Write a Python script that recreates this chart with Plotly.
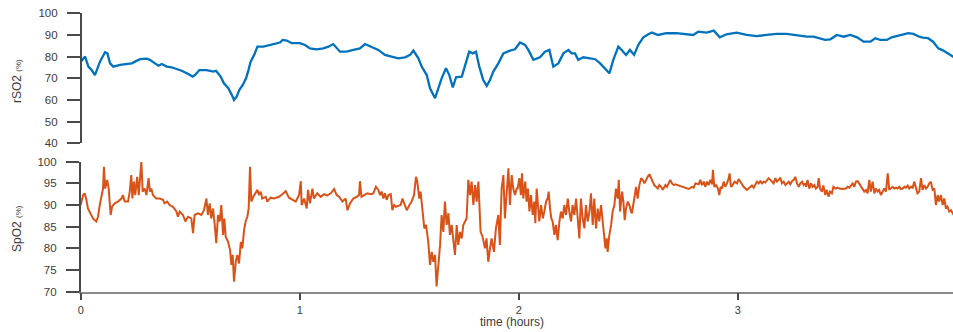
import plotly.graph_objects as go

# Regional cerebral oxygen saturation (rSO2, %) vs time (hours)
rso2_time = [0.000, 0.020, 0.035, 0.050, 0.065, 0.088, 0.111, 0.122, 0.134, 0.149,
             0.180, 0.210, 0.233, 0.248, 0.271, 0.301, 0.316, 0.339, 0.355, 0.370,
             0.393, 0.415, 0.430, 0.461, 0.491, 0.511, 0.522, 0.542, 0.575, 0.606,
             0.618, 0.629, 0.639, 0.654, 0.674, 0.694, 0.700, 0.712, 0.724, 0.740,
             0.755, 0.766, 0.776, 0.792, 0.807, 0.834, 0.865, 0.887, 0.910, 0.922,
             0.941, 0.963, 1.001, 1.024, 1.047, 1.078, 1.108, 1.131,
             1.153, 1.184, 1.214, 1.245, 1.275, 1.298, 1.329, 1.359, 1.389, 1.420,
             1.450, 1.481, 1.504, 1.519, 1.542, 1.557, 1.580, 1.595, 1.618, 1.633,
             1.648, 1.668, 1.683, 1.699, 1.714, 1.740, 1.754, 1.774, 1.790, 1.805,
             1.820, 1.838, 1.854, 1.869, 1.884, 1.907, 1.930, 1.960, 1.983, 2.006,
             2.029, 2.044, 2.067, 2.097, 2.120, 2.140, 2.158, 2.181, 2.204, 2.227,
             2.242, 2.257, 2.272, 2.295, 2.326, 2.349, 2.372, 2.394, 2.414, 2.432,
             2.455, 2.470, 2.490, 2.508, 2.527, 2.546, 2.569, 2.592,
             2.608, 2.637, 2.674, 2.720, 2.766, 2.797, 2.820, 2.858, 2.891, 2.918,
             2.949, 2.995, 3.041, 3.087, 3.132, 3.178, 3.224, 3.254, 3.285, 3.315,
             3.346, 3.399, 3.423, 3.453, 3.484, 3.514, 3.545, 3.575, 3.606, 3.628,
             3.650, 3.681, 3.703, 3.741, 3.779, 3.802, 3.829, 3.846, 3.869, 3.892,
             3.916, 3.939, 3.962, 3.990]
rso2 = [77.7, 80.0, 75.4, 73.8, 71.5, 77.7, 82.0, 81.5, 76.9, 75.4,
        76.2, 76.5, 76.9, 77.7, 78.8, 79.1, 78.5, 76.9, 75.8, 76.6,
        75.4, 75.1, 74.6, 73.5, 72.0, 70.8, 71.5, 73.8, 73.8, 73.1,
        73.5, 72.0, 70.8, 67.7, 65.4, 61.5, 60.0, 61.5, 64.6, 66.9,
        70.0, 73.8, 77.7, 80.8, 84.6, 84.6, 85.4, 86.2, 86.5, 87.7,
        87.4, 86.2, 86.2, 85.4, 83.8, 83.4, 83.8, 84.6,
        85.8, 82.3, 82.3, 83.1, 83.8, 85.8, 84.6, 83.1, 80.8, 80.0,
        79.2, 79.7, 80.8, 82.8, 79.2, 75.4, 71.5, 65.4, 60.8, 65.4,
        70.0, 74.6, 71.5, 65.8, 70.5, 70.8, 75.4, 82.3, 81.5, 82.3,
        75.4, 69.2, 66.5, 69.2, 73.1, 76.9, 81.5, 82.8, 83.4, 86.5,
        85.4, 83.1, 78.5, 79.7, 82.3, 83.1, 75.4, 76.9, 81.5, 83.1,
        81.5, 81.5, 78.5, 79.7, 79.2, 78.8, 76.9, 74.6, 72.3, 78.5,
        84.6, 83.1, 80.8, 83.1, 80.8, 85.4, 88.9, 90.3,
        91.1, 90.0, 90.8, 90.8, 90.3, 90.0, 91.5, 91.1, 92.0, 88.9,
        90.3, 91.1, 90.0, 89.5, 90.0, 90.5, 90.5, 90.0, 89.5, 89.2,
        89.2, 87.7, 88.0, 90.0, 89.2, 90.0, 88.9, 86.9, 86.9, 88.5,
        87.7, 87.7, 88.9, 90.0, 90.8, 90.5, 89.2, 88.8, 88.5, 86.9,
        83.8, 82.8, 81.5, 79.6]

# Peripheral oxygen saturation (SpO2, %) vs time (hours)
spo2_time = [0.000, 0.011, 0.018, 0.026, 0.033, 0.046, 0.056, 0.071, 0.079, 0.087,
             0.094, 0.102, 0.106, 0.112, 0.121, 0.128, 0.132, 0.137, 0.143, 0.155,
             0.170, 0.186, 0.193, 0.201, 0.216, 0.224, 0.231, 0.236, 0.243, 0.249,
             0.258, 0.265, 0.277, 0.283, 0.292, 0.300, 0.310, 0.316, 0.322, 0.330,
             0.345, 0.361, 0.376, 0.383, 0.395, 0.406, 0.421, 0.437, 0.444, 0.452,
             0.467, 0.478, 0.490, 0.505, 0.513, 0.520, 0.536, 0.551, 0.563, 0.574,
             0.581, 0.589, 0.596, 0.604, 0.612, 0.619, 0.627, 0.635, 0.642, 0.650,
             0.656, 0.662, 0.673, 0.682, 0.688, 0.694, 0.700, 0.708, 0.715, 0.723,
             0.731, 0.738, 0.746, 0.753, 0.761, 0.767, 0.773, 0.779, 0.788, 0.799,
             0.807, 0.814, 0.822, 0.829, 0.845, 0.852, 0.867, 0.883, 0.905, 0.921,
             0.936, 0.951, 0.966, 0.982, 0.997, 1.005, 1.009, 1.020, 1.032, 1.038,
             1.047, 1.058, 1.065, 1.080, 1.096, 1.111, 1.126, 1.142, 1.157, 1.169,
             1.180, 1.195, 1.210, 1.218, 1.230, 1.245, 1.260, 1.271, 1.275, 1.282,
             1.294, 1.309, 1.324, 1.336, 1.348, 1.359, 1.367, 1.374, 1.382, 1.389,
             1.397, 1.405, 1.416, 1.423, 1.431, 1.440, 1.450, 1.461, 1.469, 1.476,
             1.489, 1.501, 1.511, 1.522, 1.531, 1.537, 1.546, 1.552, 1.562, 1.569,
             1.577, 1.587, 1.595, 1.603, 1.610, 1.618, 1.625, 1.633, 1.641, 1.648,
             1.656, 1.663, 1.671, 1.679, 1.686, 1.694, 1.702, 1.709, 1.717, 1.724,
             1.732, 1.740, 1.747, 1.755, 1.762, 1.770, 1.778, 1.785, 1.793, 1.801,
             1.808, 1.816, 1.820, 1.826, 1.835, 1.846, 1.853, 1.861, 1.869, 1.876,
             1.887, 1.896, 1.907, 1.914, 1.922, 1.930, 1.937, 1.945, 1.953, 1.960,
             1.968, 1.975, 1.983, 1.991, 1.995, 2.003, 2.010, 2.015, 2.021, 2.030,
             2.036, 2.042, 2.049, 2.056, 2.064, 2.071, 2.076, 2.082, 2.088, 2.094,
             2.102, 2.110, 2.117, 2.125, 2.132, 2.137, 2.143, 2.149, 2.155, 2.163,
             2.170, 2.178, 2.186, 2.193, 2.201, 2.208, 2.216, 2.224, 2.231, 2.239,
             2.246, 2.254, 2.262, 2.269, 2.277, 2.284, 2.292, 2.300, 2.307, 2.315,
             2.323, 2.330, 2.338, 2.345, 2.353, 2.361, 2.368, 2.376, 2.383, 2.391,
             2.396, 2.402, 2.406, 2.414, 2.422, 2.429, 2.437, 2.444, 2.452, 2.457,
             2.463, 2.472, 2.478, 2.484, 2.490, 2.498, 2.505, 2.513, 2.517, 2.523,
             2.529, 2.536, 2.543, 2.551, 2.559, 2.566, 2.574, 2.581, 2.589, 2.597,
             2.604, 2.612, 2.619, 2.627, 2.635, 2.642, 2.650, 2.658, 2.662, 2.670,
             2.677, 2.685, 2.692, 2.700, 2.708, 2.715, 2.730, 2.746, 2.761, 2.776,
             2.791, 2.799, 2.807, 2.822, 2.829, 2.837, 2.845, 2.852, 2.860, 2.867,
             2.875, 2.883, 2.887, 2.893, 2.901, 2.910, 2.916, 2.922, 2.928, 2.936,
             2.943, 2.951, 2.959, 2.963, 2.969, 2.977, 2.986, 2.997, 3.004, 3.012,
             3.019, 3.027, 3.035, 3.042, 3.050, 3.058, 3.065, 3.073, 3.080, 3.088,
             3.096, 3.103, 3.111, 3.118, 3.126, 3.134, 3.141, 3.149, 3.157, 3.164,
             3.172, 3.179, 3.187, 3.195, 3.202, 3.210, 3.218, 3.225, 3.233, 3.240,
             3.248, 3.256, 3.263, 3.271, 3.279, 3.286, 3.294, 3.301, 3.309, 3.312,
             3.319, 3.327, 3.335, 3.342, 3.350, 3.357, 3.365, 3.370, 3.376, 3.385,
             3.391, 3.400, 3.406, 3.415, 3.421, 3.430, 3.437, 3.446, 3.456, 3.464,
             3.479, 3.494, 3.502, 3.510, 3.517, 3.525, 3.532, 3.540, 3.548, 3.555,
             3.563, 3.570, 3.578, 3.586, 3.593, 3.601, 3.608, 3.616, 3.624, 3.631,
             3.639, 3.646, 3.654, 3.662, 3.669, 3.677, 3.685, 3.692, 3.700, 3.707,
             3.715, 3.723, 3.730, 3.738, 3.745, 3.753, 3.761, 3.768, 3.776, 3.783,
             3.791, 3.799, 3.806, 3.814, 3.821, 3.829, 3.837, 3.844, 3.852, 3.860,
             3.867, 3.875, 3.882, 3.890, 3.898, 3.905, 3.913, 3.920, 3.928, 3.936,
             3.943, 3.951, 3.958, 3.966, 3.974, 3.990]
spo2 = [90.0, 92.3, 92.7, 91.2, 89.2, 87.7, 86.9, 86.2, 87.3, 90.0,
        92.3, 93.8, 98.8, 93.8, 95.8, 93.8, 90.8, 87.7, 89.6, 90.4,
        90.8, 91.5, 92.3, 90.8, 90.8, 93.1, 96.9, 91.5, 95.4, 92.3,
        96.5, 92.3, 100.0, 93.1, 93.8, 92.3, 96.2, 93.1, 93.8, 92.3,
        91.5, 91.5, 91.2, 90.4, 90.8, 90.0, 89.6, 88.5, 87.3, 88.5,
        87.7, 86.2, 87.3, 86.9, 83.5, 87.7, 88.1, 87.7, 88.8, 91.5,
        87.7, 90.4, 86.9, 89.2, 85.4, 81.2, 87.7, 86.2, 90.0, 83.1,
        86.9, 82.7, 81.5, 79.6, 76.2, 78.5, 72.3, 76.9, 78.5, 76.5,
        81.5, 80.0, 84.2, 86.2, 87.3, 89.2, 98.8, 90.8, 91.9, 92.7,
        93.5, 92.3, 93.1, 91.5, 91.9, 90.8, 91.7, 91.5, 91.9, 92.5,
        93.2, 91.7, 91.2, 90.8, 92.3, 95.5, 90.0, 91.5, 89.2, 93.5,
        90.4, 93.8, 91.5, 92.7, 91.9, 92.5, 92.2, 92.7, 93.7, 92.3,
        91.9, 90.8, 91.5, 88.8, 90.4, 91.5, 91.9, 92.3, 95.5, 91.9,
        92.3, 92.7, 92.5, 92.7, 94.2, 93.5, 92.3, 93.1, 91.5, 92.7,
        91.2, 92.3, 92.5, 88.8, 90.0, 89.6, 89.8, 90.0, 91.5, 90.4,
        88.8, 90.0, 90.8, 92.3, 96.5, 95.4, 91.5, 93.1, 88.5, 84.6,
        85.4, 81.5, 76.2, 79.2, 76.9, 78.5, 71.2, 76.2, 80.8, 87.7,
        83.8, 90.8, 85.4, 88.1, 83.1, 85.4, 80.8, 78.5, 85.4, 80.8,
        83.8, 82.3, 85.4, 86.2, 86.9, 95.8, 92.3, 95.4, 90.0, 94.6,
        90.8, 95.4, 88.5, 83.8, 82.7, 80.0, 82.3, 76.9, 80.0, 82.3,
        79.2, 84.6, 87.7, 80.8, 93.8, 96.9, 86.9, 93.1, 98.5, 90.0,
        96.9, 93.8, 92.3, 93.8, 93.8, 96.2, 92.3, 97.3, 91.5, 95.4,
        90.8, 93.8, 88.5, 92.3, 87.7, 90.8, 85.8, 93.8, 88.5, 86.2,
        90.0, 86.9, 88.5, 90.8, 91.5, 93.1, 89.2, 86.9, 86.2, 83.1,
        85.4, 81.9, 86.2, 88.5, 86.9, 90.0, 87.7, 91.5, 88.5, 86.2,
        90.0, 87.7, 91.5, 86.2, 82.3, 91.5, 86.9, 84.6, 90.0, 86.2,
        88.5, 92.7, 85.4, 91.5, 84.6, 89.2, 86.2, 90.0, 86.2, 83.1,
        80.0, 82.3, 79.2, 83.1, 85.4, 88.5, 90.0, 93.8, 91.5, 95.8,
        88.5, 93.1, 90.8, 86.5, 89.2, 90.8, 90.0, 88.5, 88.1, 90.0,
        91.9, 94.2, 91.5, 94.6, 96.2, 95.8, 95.0, 95.8, 96.5, 97.1,
        96.2, 95.4, 94.6, 94.2, 93.8, 94.6, 94.2, 93.5, 93.8, 94.6,
        94.2, 95.0, 95.8, 95.0, 94.6, 94.8, 94.5, 94.2, 94.0, 93.7,
        94.2, 94.0, 95.0, 94.8, 95.8, 94.6, 95.4, 94.2, 95.4, 94.6,
        95.8, 94.8, 98.1, 94.2, 94.6, 93.8, 92.3, 94.2, 93.8, 95.4,
        94.2, 95.0, 96.2, 97.3, 94.2, 94.6, 95.4, 95.0, 96.0, 95.4,
        94.6, 94.2, 93.8, 93.5, 93.8, 94.2, 94.5, 94.0, 94.6, 95.4,
        95.0, 95.5, 95.0, 95.4, 95.2, 95.8, 96.2, 95.8, 95.4, 95.0,
        96.2, 95.4, 95.8, 96.3, 95.0, 95.4, 94.6, 95.0, 95.4, 94.8,
        95.5, 95.8, 96.5, 95.0, 94.2, 95.0, 95.4, 94.6, 95.0, 94.2,
        95.8, 93.8, 95.0, 94.2, 94.6, 93.8, 94.2, 96.2, 93.8, 93.1,
        94.5, 92.3, 93.5, 91.9, 93.1, 92.7, 94.2, 93.8, 94.0, 93.8,
        93.7, 93.8, 94.2, 94.0, 94.6, 95.0, 94.2, 95.4, 95.5, 95.0,
        94.2, 93.8, 93.1, 93.5, 92.7, 95.8, 93.1, 95.4, 92.7, 93.8,
        93.1, 93.5, 92.3, 93.1, 93.8, 93.1, 97.3, 93.5, 93.8, 94.2,
        93.8, 94.0, 93.8, 94.2, 93.7, 93.8, 94.2, 94.0, 94.5, 93.8,
        94.2, 94.0, 95.4, 93.8, 92.7, 93.1, 96.2, 93.5, 94.6, 93.8,
        94.2, 95.0, 95.4, 93.5, 93.8, 90.0, 92.3, 90.8, 92.3, 90.0,
        91.5, 89.2, 89.6, 88.5, 88.8, 87.4]

# Axis tick values
x_ticks = [0, 1, 2, 3, 4]
rso2_ticks = [40, 50, 60, 70, 80, 90, 100]
spo2_ticks = [70, 75, 80, 85, 90, 95, 100]

W, H = 953, 332
BLUE = "rgb(0,114,189)"
ORANGE = "rgb(217,83,25)"
AXIS = "#4a4a4a"
TEXT = "#3c3c3c"
FONT = "Liberation Sans"

fig = go.Figure()
fig.add_trace(go.Scatter(x=rso2_time, y=rso2, mode="lines",
                         line=dict(color=BLUE, width=2.3), xaxis="x", yaxis="y"))
fig.add_trace(go.Scatter(x=spo2_time, y=spo2, mode="lines",
                         line=dict(color=ORANGE, width=2), xaxis="x", yaxis="y2"))

x_left = 80.7 / W
x_end = (W - 80.7) / 219.0

yax = dict(showline=True, linecolor=AXIS, linewidth=1.5, ticks="outside",
           ticklen=13, tickwidth=1.5, tickcolor=AXIS, showgrid=False,
           zeroline=False, ticklabelstandoff=7, automargin=False,
           tickfont=dict(family=FONT, size=11.5, color=TEXT))

fig.update_layout(
    template="none",
    width=W, height=H,
    margin=dict(l=0, r=0, t=0, b=0, pad=0, autoexpand=False),
    paper_bgcolor="white", plot_bgcolor="white",
    showlegend=False,
    xaxis=dict(domain=[x_left, 1], range=[0, x_end], anchor="y2",
               tickvals=x_ticks, showline=True, linecolor="#8a8a8a",
               linewidth=1.5, ticks="outside", ticklen=7, tickwidth=1.5,
               tickcolor=AXIS, showgrid=False, zeroline=False,
               ticklabelstandoff=0, automargin=False,
               tickfont=dict(family=FONT, size=11, color=TEXT)),
    yaxis=dict(domain=[1 - 143.3 / H, 1 - 13.3 / H], range=[40, 100],
               tickvals=rso2_ticks, anchor="free", position=x_left, **yax),
    yaxis2=dict(domain=[1 - 291.7 / H, 1 - 161.7 / H], range=[70, 100],
                tickvals=spo2_ticks, anchor="x", **yax),
)

for label, yc in (("rSO2", 81), ("SpO2", 229)):
    fig.add_annotation(text=label + " <span style='font-size:8px'>(%)</span>",
                       x=17 / W, y=1 - yc / H, xref="paper", yref="paper",
                       xanchor="center", yanchor="middle",
                       textangle=-90, showarrow=False,
                       font=dict(family=FONT, size=12, color=TEXT))
fig.add_annotation(text="time (hours)", x=512 / W, y=1 - 322 / H,
                   xref="paper", yref="paper", xanchor="center",
                   yanchor="middle", showarrow=False,
                   font=dict(family=FONT, size=12, color=TEXT))

fig.write_html("out.html")
